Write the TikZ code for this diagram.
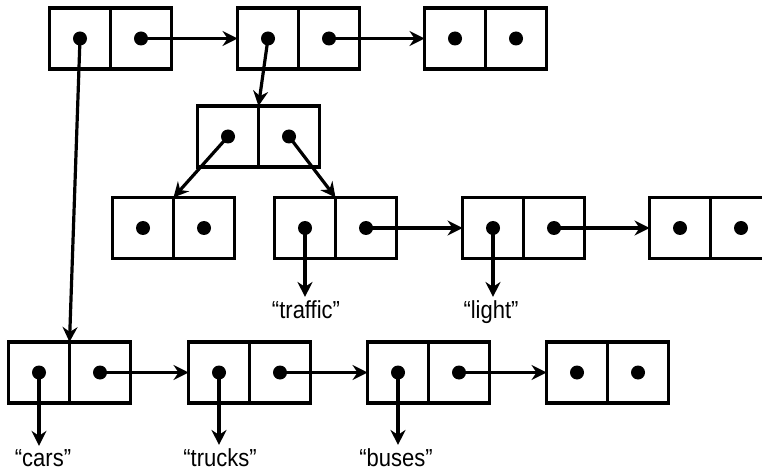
\documentclass[tikz,border=0pt]{standalone}
\usepackage{fontspec}
\setmainfont{Liberation Sans}
\usetikzlibrary{arrows.meta}

\tikzset{
  cell/.style={draw, line width=3.4pt, minimum width=61pt, minimum height=61pt,
               inner sep=0pt, outer sep=0pt, fill=white},
  ptr/.style={line width=3.2pt, -{Stealth[length=15pt, width=15pt, inset=5pt]}},
  dotmark/.style={circle, fill=black, minimum size=14pt, inner sep=0pt},
  word/.style={font=\fontsize{22}{24}\selectfont, anchor=base, inner sep=3pt}
}
\newcommand{\tallword}[1]{\scalebox{1}[1.12]{#1}}

\begin{document}
\begin{tikzpicture}[x=1pt, y=-1pt]
  \clip (0,0) rectangle (762,470);
  \fill[white] (0,0) rectangle (762,470);

  % cons cells: each pair of squares is one cell
  \foreach \n/\x/\y in {a/80/38.5, b/268/38.5, c/455/38.5,
                        d/228/136.5,
                        e/143/228, f/305/228, g/493/228, h/680/228,
                        i/39/372.5, j/219/372.5, k/398/372.5, l/577/372.5}{
    \node[cell] (\n1) at (\x,\y) {};
    \node[cell, anchor=west] (\n2) at (\n1.east) {};
  }

  % string atoms
  \node[word] (traffic) at (306,318) {\tallword{“traffic”}};
  \node[word] (light)   at (491,318) {\tallword{“light”}};
  \node[word] (cars)    at (43,466)  {\tallword{“cars”}};
  \node[word] (trucks)  at (220,466) {\tallword{“trucks”}};
  \node[word] (buses)   at (396,466) {\tallword{“buses”}};

  % pointers
  \draw[ptr] (a2.center) -- (b1.west);
  \draw[ptr] (b2.center) -- (c1.west);
  \draw[ptr] (a1.center) -- (i1.north east);
  \draw[ptr] (b1.center) -- (d1.north east);
  \draw[ptr] (d1.center) -- (e1.north east);
  \draw[ptr] (d2.center) -- (f1.north east);
  \draw[ptr] (f2.center) -- (g1.west);
  \draw[ptr] (g2.center) -- (h1.west);
  \draw[ptr] (i2.center) -- (j1.west);
  \draw[ptr] (j2.center) -- (k1.west);
  \draw[ptr] (k2.center) -- (l1.west);
  \draw[ptr] (f1.center) -- (f1.center |- traffic.north);
  \draw[ptr] (g1.center) -- (g1.center |- light.north);
  \draw[ptr] (i1.center) -- (i1.center |- cars.north);
  \draw[ptr] (j1.center) -- (j1.center |- trucks.north);
  \draw[ptr] (k1.center) -- (k1.center |- buses.north);

  % dots in every half of every cell
  \foreach \n in {a,b,c,d,e,f,g,h,i,j,k,l}{
    \node[dotmark] at (\n1.center) {};
    \node[dotmark] at (\n2.center) {};
  }
\end{tikzpicture}
\end{document}
